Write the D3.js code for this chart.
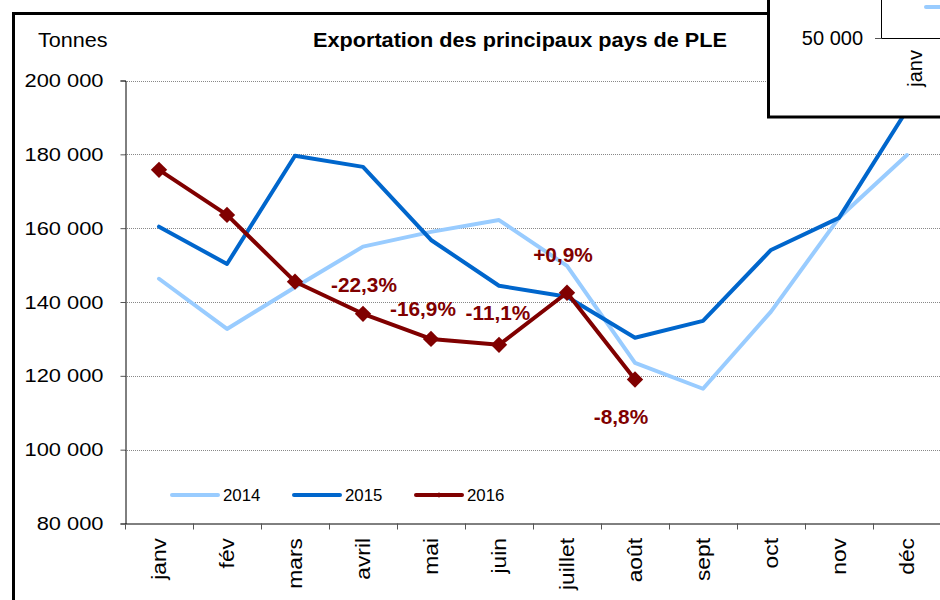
<!DOCTYPE html>
<html>
<head>
<meta charset="utf-8">
<script src="https://cdn.jsdelivr.net/npm/d3@7"></script>
<style>
  body { margin: 0; background: #fff; }
  svg { font-family: "Liberation Sans", Arial, sans-serif; }
</style>
</head>
<body>
<div id="vis"></div>
<script>
const months = ['janv', 'fév', 'mars', 'avril', 'mai', 'juin', 'juillet', 'août', 'sept', 'oct', 'nov', 'déc'];
const y2014 = [146300, 132700, 144000, 155000, 159000, 162200, 149800, 123500, 116500, 137400, 162800, 179800];
const y2015 = [160400, 150300, 179600, 176600, 156800, 144400, 141400, 130300, 134900, 154100, 162800, 192000];
const y2016 = [175800, 163600, 145500, 136800, 130000, 128400, 142500, 119000];
const labels2016 = [null, null, null, '-22,3%', '-16,9%', '-11,1%', '+0,9%', '-8,8%'];
const yTicks = [80000, 100000, 120000, 140000, 160000, 180000, 200000];

const width = 940;
const height = 600;
const plot = { left: 125, right: 941, top: 80.5, bottom: 523.5 };
const font = '"Liberation Sans", Arial, sans-serif';

const svg = d3.select('#vis')
  .append('svg')
  .attr('width', width)
  .attr('height', height);

// the source picture is a bit wider than tall, so widen the text a little
function stretch(sel, factor) {
  sel.each(function() {
    const w = this.getComputedTextLength();
    d3.select(this)
      .attr('textLength', w * factor)
      .attr('lengthAdjust', 'spacingAndGlyphs');
  });
}

// scales
const x = d3.scaleBand()
  .domain(months)
  .range([plot.left, plot.right])
  .padding(0);
const y = d3.scaleLinear()
  .domain([80000, 200000])
  .range([plot.bottom, plot.top]);
const cx = d => x(d) + x.bandwidth() / 2;

const fmt = v => d3.format(',')(v).replace(/,/g, ' ');

// gridlines
svg.append('g')
  .selectAll('line')
  .data(yTicks.filter(d => d > 80000))
  .join('line')
  .attr('x1', plot.left)
  .attr('x2', width)
  .attr('y1', d => Math.round(y(d)) + 0.5)
  .attr('y2', d => Math.round(y(d)) + 0.5)
  .attr('stroke', '#888')
  .attr('stroke-width', 1)
  .attr('stroke-dasharray', '1,1');

// y axis
const yAxis = svg.append('g')
  .attr('transform', 'translate(' + (plot.left + 0.5) + ',0)')
  .call(d3.axisLeft(y).tickValues(yTicks).tickFormat(fmt).tickSize(5).tickPadding(17));
yAxis.select('.domain').attr('stroke', '#000');
yAxis.selectAll('.tick line').attr('stroke', '#555');
yAxis.selectAll('text')
  .attr('font-size', 19)
  .attr('font-family', font)
  .attr('fill', '#000')
  .call(stretch, 1.15);

// x axis
const xAxis = svg.append('g')
  .attr('transform', 'translate(0,' + (plot.bottom + 0.5) + ')')
  .call(d3.axisBottom(x).tickSize(0).tickSizeOuter(0));
xAxis.select('.domain').attr('stroke', '#000').attr('d', 'M' + plot.left + ',0H' + width);
xAxis.selectAll('text')
  .attr('font-size', 20)
  .attr('font-family', font)
  .attr('fill', '#000')
  .attr('text-anchor', 'end')
  .attr('transform', 'rotate(-90)')
  .attr('x', -14)
  .attr('y', 0)
  .attr('dy', '0.35em')
  .call(stretch, 1.14);
svg.append('g')
  .selectAll('line')
  .data(months)
  .join('line')
  .attr('x1', d => Math.round(x(d)) + 0.5)
  .attr('x2', d => Math.round(x(d)) + 0.5)
  .attr('y1', plot.bottom)
  .attr('y2', plot.bottom + 6)
  .attr('stroke', '#555');

// lines
const line = d3.line()
  .x((d, i) => cx(months[i]))
  .y(d => y(d));

const series = [
  { name: '2014', values: y2014, color: '#99ccff' },
  { name: '2015', values: y2015, color: '#0066cc' },
  { name: '2016', values: y2016, color: '#800000' }
];

series.forEach(s => {
  svg.append('path')
    .datum(s.values)
    .attr('fill', 'none')
    .attr('stroke', s.color)
    .attr('stroke-width', 4)
    .attr('stroke-linejoin', 'round')
    .attr('stroke-linecap', 'round')
    .attr('d', line);
});

// 2016 markers
const diamond = d3.symbol().type(d3.symbolDiamond2).size(170);
svg.append('g')
  .selectAll('path')
  .data(y2016)
  .join('path')
  .attr('transform', (d, i) => 'translate(' + cx(months[i]) + ',' + y(d) + ')')
  .attr('d', diamond)
  .attr('fill', '#800000');

// variation labels
const labelOffsets = [null, null, null, [1, -29], [-8, -30], [-1, -32], [-4, -38], [-14, 37]];
const labelData = y2016
  .map((v, i) => ({ i: i, v: v, text: labels2016[i] }))
  .filter(d => d.text);
svg.append('g')
  .selectAll('text')
  .data(labelData)
  .join('text')
  .attr('x', d => cx(months[d.i]) + labelOffsets[d.i][0])
  .attr('y', d => y(d.v) + labelOffsets[d.i][1])
  .attr('text-anchor', 'middle')
  .attr('dy', '0.35em')
  .attr('font-size', 20)
  .attr('font-weight', 'bold')
  .attr('fill', '#800000')
  .text(d => d.text)
  .call(stretch, 1.04);

// titles
svg.append('text')
  .attr('x', 38)
  .attr('y', 47)
  .attr('font-size', 20)
  .text('Tonnes')
  .call(stretch, 1.08);
svg.append('text')
  .attr('x', 313)
  .attr('y', 47)
  .attr('font-size', 20)
  .attr('font-weight', 'bold')
  .attr('textLength', 414)
  .attr('lengthAdjust', 'spacingAndGlyphs')
  .text('Exportation des principaux pays de PLE');

// legend
const legend = svg.append('g')
  .attr('transform', 'translate(170,495)');
series.forEach((s, i) => {
  const g = legend.append('g').attr('transform', 'translate(' + (i * 122) + ',0)');
  g.append('line')
    .attr('x1', 2).attr('x2', 48)
    .attr('stroke', s.color)
    .attr('stroke-width', 4)
    .attr('stroke-linecap', 'round');
  if (s.name === '2016') {
    g.append('path')
      .attr('transform', 'translate(25,0)')
      .attr('d', d3.symbol().type(d3.symbolDiamond2).size(20))
      .attr('fill', s.color);
  }
  g.append('text')
    .attr('x', 53)
    .attr('y', 0)
    .attr('dy', '0.35em')
    .attr('font-size', 16)
    .text(s.name)
    .call(stretch, 1.05);
});

// outer frame
svg.append('path')
  .attr('d', 'M13.5,600V13.5H768')
  .attr('fill', 'none')
  .attr('stroke', '#000')
  .attr('stroke-width', 3);

// overlapping inset chart (top right)
const inset = svg.append('g');
inset.append('rect')
  .attr('x', 768.5)
  .attr('y', -10)
  .attr('width', 200)
  .attr('height', 127)
  .attr('fill', '#fff')
  .attr('stroke', '#000')
  .attr('stroke-width', 3);
inset.append('text')
  .attr('x', 863)
  .attr('y', 38)
  .attr('dy', '0.35em')
  .attr('text-anchor', 'end')
  .attr('font-size', 20)
  .text('50 000');
inset.append('line')
  .attr('x1', 875).attr('x2', 881)
  .attr('y1', 38.5).attr('y2', 38.5)
  .attr('stroke', '#555');
inset.append('path')
  .attr('d', 'M881.5,0V38.5H940')
  .attr('fill', 'none')
  .attr('stroke', '#000');
inset.append('line')
  .attr('x1', 926).attr('x2', 942)
  .attr('y1', 7).attr('y2', 7)
  .attr('stroke', '#99ccff')
  .attr('stroke-width', 4)
  .attr('stroke-linecap', 'round');
inset.append('text')
  .attr('transform', 'translate(915,50) rotate(-90)')
  .attr('text-anchor', 'end')
  .attr('dy', '0.35em')
  .attr('font-size', 20)
  .text('janv');
</script>
</body>
</html>
